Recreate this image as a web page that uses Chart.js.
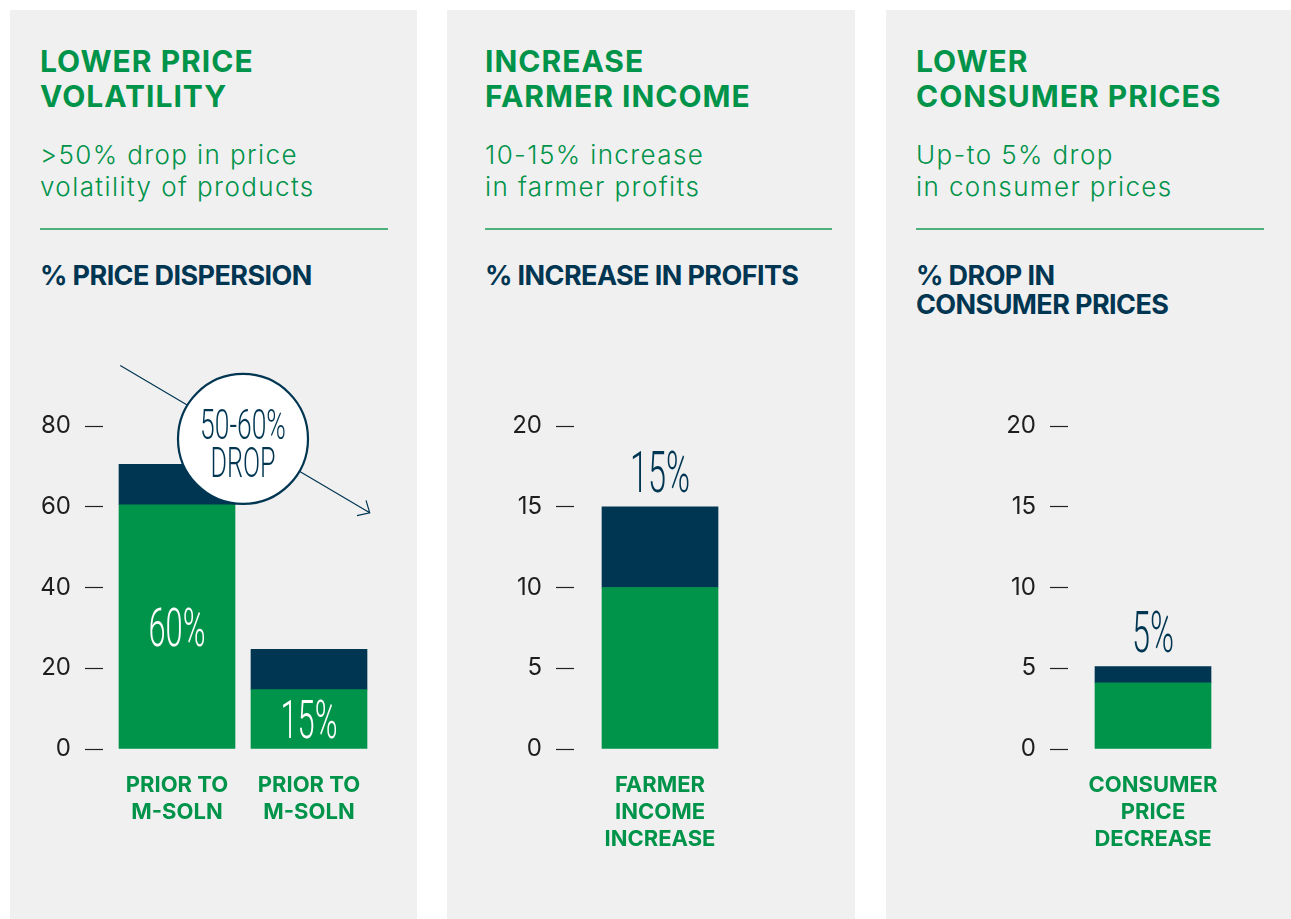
<!DOCTYPE html>
<html>
<head>
<meta charset="utf-8">
<script src="https://cdn.jsdelivr.net/npm/chart.js@4.4.1/dist/chart.umd.min.js"></script>
<style>
body { margin:0; width:1291px; height:919px; background:#fff; position:relative; overflow:hidden; font-family:Inter, "Open Sans", sans-serif; }
.panel { position:absolute; top:10px; height:909px; background:#f0f0f0; }
.title { position:absolute; color:#00934a; font-weight:700; font-size:30px; line-height:35px; top:44px; letter-spacing:1px; white-space:nowrap; }
.sub { position:absolute; color:#00934a; font-weight:300; font-size:26px; line-height:32px; top:139px; letter-spacing:1.4px; white-space:nowrap; }
.rule { position:absolute; top:228px; height:2px; width:348px; background:#4fb07d; }
.head { position:absolute; color:#003652; font-weight:700; font-size:27px; line-height:29px; top:261px; letter-spacing:-0.6px; white-space:nowrap; }
canvas { position:absolute; }
</style>
</head>
<body>
<div class="panel" style="left:10px;width:407px"></div>
<div class="panel" style="left:447px;width:408px"></div>
<div class="panel" style="left:886px;width:405px"></div>

<div class="title" style="left:40px">LOWER PRICE<br>VOLATILITY</div>
<div class="sub" style="left:40px">&gt;50% drop in price<br>volatility of products</div>
<div class="rule" style="left:40px"></div>
<div class="head" style="left:40px">% PRICE DISPERSION</div>

<div class="title" style="left:485px">INCREASE<br>FARMER INCOME</div>
<div class="sub" style="left:485px">10-15% increase<br>in farmer profits</div>
<div class="rule" style="left:485px;width:347px"></div>
<div class="head" style="left:485px">% INCREASE IN PROFITS</div>

<div class="title" style="left:916px">LOWER<br>CONSUMER PRICES</div>
<div class="sub" style="left:916px">Up-to 5% drop<br>in consumer prices</div>
<div class="rule" style="left:916px"></div>
<div class="head" style="left:916px">% DROP IN<br>CONSUMER PRICES</div>

<canvas id="c1" style="left:10px;top:330px;width:406px;height:589px"></canvas>
<canvas id="c2" style="left:447px;top:330px;width:408px;height:589px"></canvas>
<canvas id="c3" style="left:886px;top:330px;width:405px;height:589px"></canvas>

<script>
// price dispersion
var dispLabels = [["PRIOR TO", "M-SOLN"], ["PRIOR TO", "M-SOLN"]];
var dispBase = [60.5, 14.7];
var dispTop = [10, 10];
var dispText = ["60%", "15%"];
var dispMax = 80, dispStep = 20;
var calloutText = ["50-60%", "DROP"];

// farmer profits
var profitLabels = [["FARMER", "INCOME", "INCREASE"]];
var profitBase = [10];
var profitTop = [5];
var profitText = ["15%"];
var profitMax = 20, profitStep = 5;

// consumer prices
var consLabels = [["CONSUMER", "PRICE", "DECREASE"]];
var consBase = [4.1];
var consTop = [1.0];
var consText = ["5%"];
var consMax = 20, consStep = 5;

var GREEN = "#00934a";
var NAVY = "#003652";

function thinText(ctx, txt, x, y, size, color, sx) {
    ctx.save();
    ctx.font = "300 " + size + "px Roboto";
    ctx.fillStyle = color;
    ctx.textAlign = "center";
    ctx.textBaseline = "alphabetic";
    ctx.translate(x, y);
    ctx.scale(sx || 0.57, 1);
    ctx.fillText(txt, 0, 0);
    ctx.restore();
}

// labels inside the green part
var insideLabels = {
    id: "insideLabels",
    afterDatasetsDraw: function(chart, args, opts) {
        if (!opts.texts) return;
        var ctx = chart.ctx;
        chart.getDatasetMeta(0).data.forEach(function(bar, i) {
            var mid = (bar.y + bar.base) / 2;
            thinText(ctx, opts.texts[i], bar.x, mid + 19, 54, "#fff");
        });
    }
};

// labels on top of stack
var topLabels = {
    id: "topLabels",
    afterDatasetsDraw: function(chart, args, opts) {
        if (!opts.texts) return;
        var ctx = chart.ctx;
        chart.getDatasetMeta(1).data.forEach(function(bar, i) {
            thinText(ctx, opts.texts[i], bar.x, bar.y - 15, 57, NAVY);
        });
    }
};

// circle callout with arrow
var callout = {
    id: "callout",
    afterDraw: function(chart, args, opts) {
        if (!opts.text) return;
        var ctx = chart.ctx;
        var xs = chart.scales.x, ys = chart.scales.y;
        var x0 = xs.getPixelForValue(-0.43), y0 = ys.getPixelForValue(95);
        var x1 = xs.getPixelForValue(1.46), y1 = ys.getPixelForValue(58.5);
        ctx.save();
        ctx.strokeStyle = NAVY;
        ctx.lineWidth = 1.2;
        ctx.beginPath();
        ctx.moveTo(x0, y0);
        ctx.lineTo(x1, y1);
        var ang = Math.atan2(y1 - y0, x1 - x0);
        ctx.moveTo(x1 - 13 * Math.cos(ang - 0.75), y1 - 13 * Math.sin(ang - 0.75));
        ctx.lineTo(x1, y1);
        ctx.lineTo(x1 - 13 * Math.cos(ang + 0.75), y1 - 13 * Math.sin(ang + 0.75));
        ctx.stroke();

        var cx = xs.getPixelForValue(0.5), cy = ys.getPixelForValue(76.8);
        ctx.beginPath();
        ctx.arc(cx, cy, 65, 0, Math.PI * 2);
        ctx.fillStyle = "#fff";
        ctx.fill();
        ctx.lineWidth = 2.2;
        ctx.stroke();
        ctx.restore();
        thinText(ctx, opts.text[0], cx, cy + 0, 42, NAVY, 0.63);
        thinText(ctx, opts.text[1], cx, cy + 38, 42, NAVY, 0.6);
    }
};

function makeChart(id, labels, base, top, max, step, axisW, padRight, barW, pluginOpts) {
    var ctx = document.getElementById(id).getContext("2d");
    return new Chart(ctx, {
        type: "bar",
        data: {
            labels: labels,
            datasets: [
                { data: base, backgroundColor: GREEN, barThickness: barW },
                { data: top, backgroundColor: NAVY, barThickness: barW }
            ]
        },
        options: {
            responsive: false,
            animation: false,
            layout: { padding: { top: 96, right: padRight, left: 0, bottom: 0 } },
            plugins: Object.assign({ legend: { display: false }, tooltip: { enabled: false } }, pluginOpts),
            scales: {
                x: {
                    stacked: true,
                    grid: { display: false },
                    border: { display: false },
                    ticks: {
                        color: GREEN,
                        padding: 15,
                        maxRotation: 0,
                        autoSkip: false,
                        font: { family: "Inter", weight: "bold", size: 22, lineHeight: "27px" }
                    },
                    afterFit: function(s) { s.height = 170; }
                },
                y: {
                    stacked: true,
                    min: 0,
                    max: max,
                    ticks: {
                        stepSize: step,
                        color: "#1e1e1e",
                        padding: 14,
                        font: { family: "Inter", size: 24 }
                    },
                    grid: {
                        drawOnChartArea: false,
                        drawTicks: true,
                        tickLength: 26,
                        tickColor: "#222",
                        tickWidth: 1.2,
                        tickBorderDash: [18, 40]
                    },
                    border: { display: false },
                    afterFit: function(s) { s.width = axisW; }
                }
            }
        },
        plugins: [insideLabels, topLabels, callout]
    });
}

var c1 = document.getElementById("c1"); c1.width = 406; c1.height = 589;
var c2 = document.getElementById("c2"); c2.width = 408; c2.height = 589;
var c3 = document.getElementById("c3"); c3.width = 405; c3.height = 589;

makeChart("c1", dispLabels, dispBase, dispTop, dispMax, dispStep, 101, 41, 116,
    { insideLabels: { texts: dispText }, callout: { text: calloutText } });
makeChart("c2", profitLabels, profitBase, profitTop, profitMax, profitStep, 135, 117, 116,
    { topLabels: { texts: profitText } });
makeChart("c3", consLabels, consBase, consTop, consMax, consStep, 190, 61, 116,
    { topLabels: { texts: consText } });
</script>
</body>
</html>
